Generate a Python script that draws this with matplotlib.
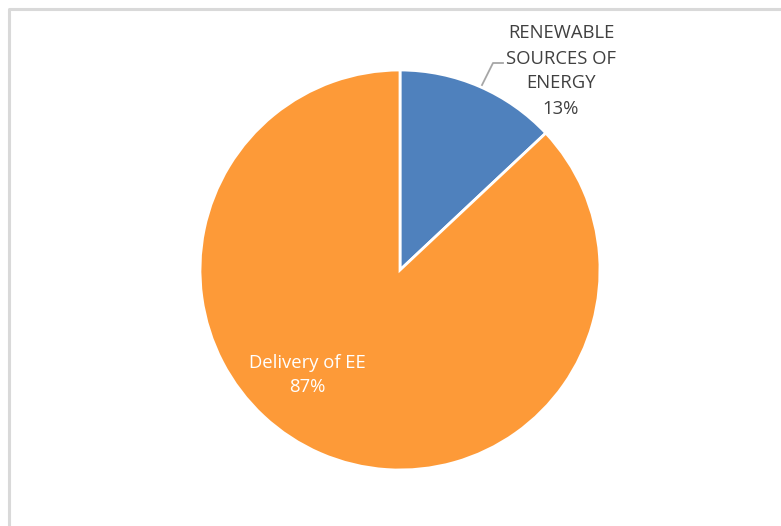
import matplotlib
matplotlib.use("Agg")
import matplotlib.pyplot as plt
import numpy as np

categories = ["RENEWABLE\nSOURCES OF\nENERGY", "Delivery of EE"]
shares = [13, 87]
colors = ["#4F81BD", "#FD9A38"]

W, H = 781, 526
fig = plt.figure(figsize=(W / 100, H / 100), dpi=100)
ax = fig.add_axes([0, 0, 1, 1])

# chart-area frame (top and left edges visible)
ax.plot([9, 9, W + 5], [-5, H - 9, H - 9], color="#D9D9D9", lw=2.2, solid_capstyle="butt")

cx, cy, r = 400, H - 270, 200
wedges, _ = ax.pie(shares, colors=colors, startangle=90, counterclock=False,
                   center=(cx, cy), radius=r, frame=True,
                   wedgeprops=dict(edgecolor="white", linewidth=2))
ax.set_xlim(0, W)
ax.set_ylim(0, H)
ax.set_aspect("equal")
ax.axis("off")

font = ["Open Sans", "DejaVu Sans"]
total = sum(shares)

# outside label for the small slice, with leader line
ax.text(561, H - 71, f"{categories[0]}\n{round(shares[0] / total * 100)}%",
        ha="center", va="center", fontsize=13.3, color="#404040",
        family=font, linespacing=1.5)
ax.plot([482, 493, 503], [H - 85, H - 63, H - 63], color="#A6A6A6", lw=1.3)

# inside label for the large slice
ax.text(307, H - 375, f"{categories[1]}\n{round(shares[1] / total * 100)}%",
        ha="center", va="center", fontsize=13.3, color="white",
        family=font, linespacing=1.45)

fig.savefig("out.png", dpi=100)
